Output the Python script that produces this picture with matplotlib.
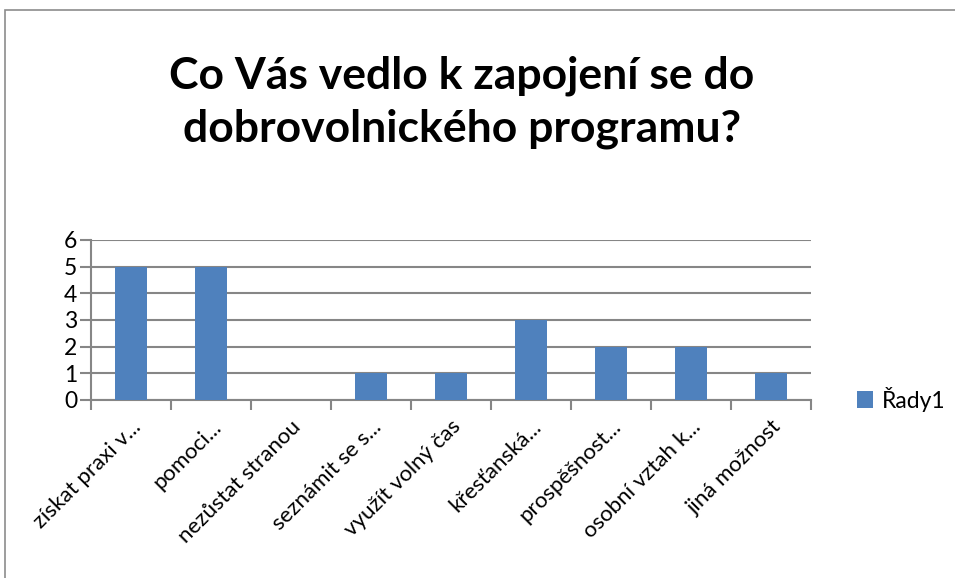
import matplotlib.pyplot as plt
from matplotlib.patches import Rectangle

# Data
categories = ['získat praxi v...', 'pomoci...', 'nezůstat stranou', 'seznámit se s...',
              'využít volný čas', 'křesťanská...', 'prospěšnost...', 'osobní vztah k...',
              'jiná možnost']
values = [5, 5, 0, 1, 1, 3, 2, 2, 1]
series_name = 'Řady1'
title = 'Co Vás vedlo k zapojení se do\ndobrovolnického programu?'

plt.rcParams['font.family'] = ['Lato', 'DejaVu Sans']

fig = plt.figure(figsize=(9.55, 5.78), dpi=100)
ax = fig.add_axes([91 / 955, 1 - 400 / 578, 720 / 955, 160 / 578])

# Chart frame (cropped on right/bottom)
fig.patches.append(Rectangle((5 / 955, -0.1), 1.1, 1 - 10 / 578 + 0.1, transform=fig.transFigure,
                             fill=False, edgecolor='#8c8c8c', linewidth=1.2))

x = range(len(categories))
ax.bar(x, values, width=0.4, color='#4F81BD', label=series_name, zorder=3)

ax.set_xlim(-0.5, len(categories) - 0.5)
ax.set_ylim(0, 6)
ax.set_yticks(range(0, 7))
ax.yaxis.grid(True, color='#868686', linewidth=1.5, zorder=0)
ax.set_axisbelow(True)

for s in ['top', 'right']:
    ax.spines[s].set_visible(False)
for s in ['left', 'bottom']:
    ax.spines[s].set_color('#868686')
    ax.spines[s].set_linewidth(1.5)

ax.set_xticks([i - 0.5 for i in range(len(categories) + 1)], minor=False)
ax.set_xticklabels([])
ax.set_xticks(list(x), minor=True)
ax.set_xticklabels(categories, minor=True, rotation=45, ha='right', rotation_mode='anchor',
                   fontsize=16)
ax.tick_params(axis='x', which='minor', length=0, pad=12)
ax.tick_params(axis='x', which='major', length=7, width=1.5, color='#868686')
ax.tick_params(axis='y', length=8, width=1.5, color='#868686', labelsize=16.5, pad=2)

fig.text(462 / 955, 1 - 102 / 578, title, ha='center', va='center', fontsize=32,
         fontweight='bold', linespacing=1.38)

ax.legend(loc='center left', bbox_to_anchor=(836 / 955, 1 - 399 / 578),
          bbox_transform=fig.transFigure, frameon=False, fontsize=16.5,
          handlelength=0.7, handleheight=0.7, handletextpad=0.4)

fig.savefig('out.png', dpi=100)
